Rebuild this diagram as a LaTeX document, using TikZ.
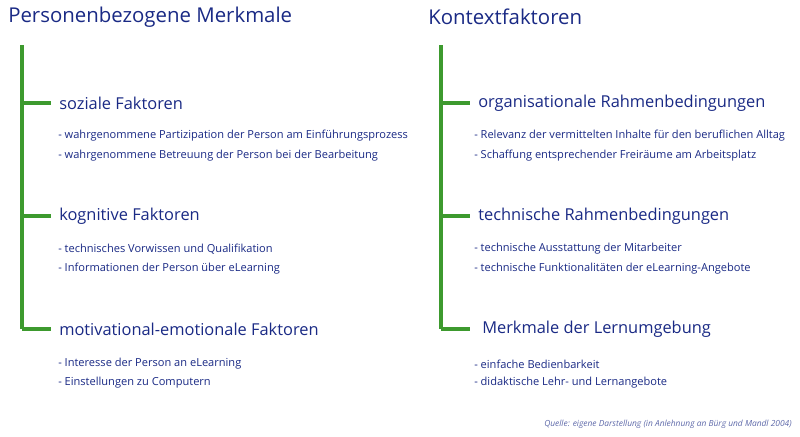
\documentclass[tikz,border=0pt]{standalone}
\usepackage{fontspec}
\setmainfont{Open Sans}
\definecolor{tb}{HTML}{1A2A85}
\definecolor{tg}{HTML}{3D9A2E}
\begin{document}
\begin{tikzpicture}[x=0.75pt,y=-0.75pt,
 ttl/.style={anchor=west,text=tb,font=\fontsize{15.3}{18}\selectfont,inner sep=0},
 hd/.style={anchor=west,text=tb,font=\fontsize{12.3}{14}\selectfont,inner sep=0},
 it/.style={anchor=west,text=tb,font=\fontsize{8.3}{10}\selectfont,inner sep=0},
 br/.style={draw=tg,line width=2.5pt}]
\useasboundingbox[fill=white] (0,0) rectangle (800,436);
\node[ttl] (t1) at (8,17) {Personenbezogene Merkmale};
\node[ttl] (t2) at (428,17) {Kontextfaktoren};
\coordinate (a0) at (22,45); \coordinate (a3) at (22,329);
\coordinate (b0) at (441,45); \coordinate (b3) at (441,329);
\draw[br] (a0) -- (a3); \draw[br] (b0) -- (b3);
\foreach \y/\n in {103/1,216/2,329/3}{
 \coordinate (la\n) at (22,\y); \coordinate (ra\n) at (441,\y);
 \draw[br] (la\n) -- ++(29,0); \draw[br] (ra\n) -- ++(29,0);}
\node[hd] (h1) at (59,103) {soziale Faktoren};
\node[hd] (h2) at (59,216) {kognitive Faktoren};
\node[hd] (h3) at (59,329) {motivational-emotionale Faktoren};
\node[hd] (h4) at (478,103) {organisationale Rahmenbedingungen};
\node[hd] (h5) at (478,216) {technische Rahmenbedingungen};
\node[hd] (h6) at (482,329) {Merkmale der Lernumgebung};
\node[it] at (58,136) {- wahrgenommene Partizipation der Person am Einführungsprozess};
\node[it] at (58,156) {- wahrgenommene Betreuung der Person bei der Bearbeitung};
\node[it] at (58,249) {- technisches Vorwissen und Qualifikation};
\node[it] at (58,269) {- Informationen der Person über eLearning};
\node[it] at (58,364) {- Interesse der Person an eLearning};
\node[it] at (58,383) {- Einstellungen zu Computern};
\node[it] at (474,136) {- Relevanz der vermittelten Inhalte für den beruflichen Alltag};
\node[it] at (474,156) {- Schaffung entsprechender Freiräume am Arbeitsplatz};
\node[it] at (474,249) {- technische Ausstattung der Mitarbeiter};
\node[it] at (474,269) {- technische Funktionalitäten der eLearning-Angebote};
\node[it] at (474,364) {- einfache Bedienbarkeit};
\node[it] at (474,383) {- didaktische Lehr- und Lernangebote};
\node[anchor=east,text=tb!70,inner sep=0,font=\itshape\fontsize{6.3}{7}\selectfont] at (792,424) {Quelle: eigene Darstellung (in Anlehnung an Bürg und Mandl 2004)};
\end{tikzpicture}
\end{document}
